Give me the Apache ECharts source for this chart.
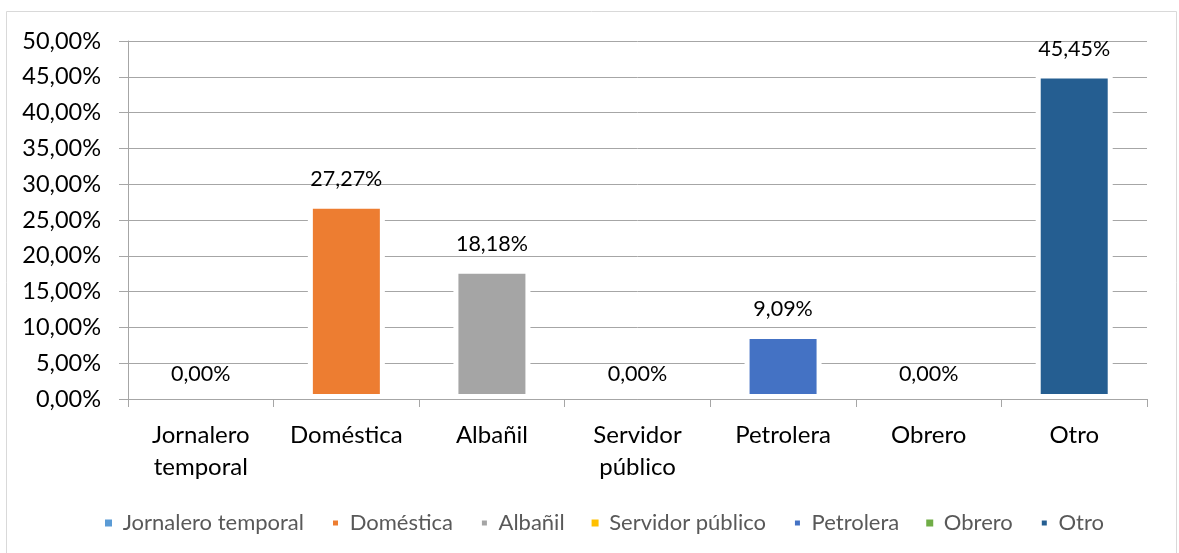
<!DOCTYPE html>
<html>
<head>
<meta charset="utf-8">
<title>Ocupación</title>
<script src="https://cdn.jsdelivr.net/npm/echarts@6/dist/echarts.min.js"></script>
<style>
html,body{margin:0;padding:0;background:#fff;}
#box01{width:1179px;height:553px;}
</style>
</head>
<body>
<div id="box01"></div>
<script>
// datos
var categorias=["Jornalero temporal","Doméstica","Albañil","Servidor público","Petrolera","Obrero","Otro"];
var etiquetasEje=["Jornalero\ntemporal","Doméstica","Albañil","Servidor\npúblico","Petrolera","Obrero","Otro"];
var valores=[0,27.27,18.18,0,9.09,0,45.45];
var colores=["#5B9BD5","#ED7D31","#A5A5A5","#FFC000","#4472C4","#70AD47","#255E91"];
var ejeY={min:0,max:50,interval:5};

var fuente="Lato";

function fmtPct(v){
    return Number(v).toFixed(2).replace(".",",")+"%";
};

function echart_barras(id){
    var myChart=echarts.init(document.getElementById(id));

    var series=[];
    for(var i=0;i<categorias.length;i++){
        var arr=[];
        for(var j=0;j<categorias.length;j++){
            arr.push(j==i ? valores[i] : "-");
        };
        series.push({
            name:categorias[i],
            type:"bar",
            stack:"total",
            barWidth:77,
            data:arr,
            itemStyle:{
                color:colores[i],
                borderColor:"#fff",
                borderWidth:valores[i]>0 ? 5 : 0
            },
            label:{
                show:true,
                position:"top",
                distance:14,
                color:"#000",
                fontFamily:fuente,
                fontSize:21.5,
                formatter:function(p){
                    return fmtPct(p.value);
                }
            }
        });
    };

    var option={
        backgroundColor:"#fff",
        animation:false,
        textStyle:{fontFamily:fuente},
        graphic:[{
            type:"rect",
            shape:{x:6.5,y:11.5,width:1170,height:560},
            style:{fill:"none",stroke:"#d9d9d9",lineWidth:1},
            silent:true
        }],
        grid:{left:128,right:32,top:41,bottom:154},
        legend:{
            top:507,
            left:100,
            icon:"rect",
            itemWidth:7,
            itemHeight:7,
            itemGap:27,
            data:categorias,
            formatter:function(name){
                return " "+name;
            },
            textStyle:{color:"#595959",fontFamily:fuente,fontSize:22}
        },
        xAxis:{
            type:"category",
            data:etiquetasEje,
            z:3,
            axisLine:{lineStyle:{color:"#a6a6a6",width:1}},
            axisTick:{show:true,length:8,lineStyle:{color:"#a6a6a6"}},
            axisLabel:{
                color:"#000",
                fontFamily:fuente,
                fontSize:24,
                lineHeight:32,
                margin:20,
                interval:0
            }
        },
        yAxis:{
            type:"value",
            min:ejeY.min,
            max:ejeY.max,
            interval:ejeY.interval,
            axisLine:{show:true,lineStyle:{color:"#a6a6a6"}},
            axisTick:{show:true,length:9,lineStyle:{color:"#a6a6a6"}},
            splitLine:{show:true,lineStyle:{color:"#a6a6a6",width:1}},
            axisLabel:{
                color:"#000",
                fontFamily:fuente,
                fontSize:23.5,
                margin:27,
                formatter:function(v){
                    return fmtPct(v);
                }
            }
        },
        series:series
    };

    myChart.setOption(option);
};

echart_barras("box01");
</script>
</body>
</html>
